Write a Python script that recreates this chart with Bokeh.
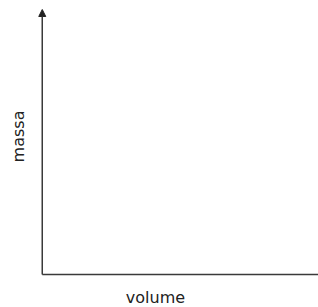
import math
from bokeh.plotting import figure
from bokeh.models import Arrow, NormalHead, Label, Range1d
from bokeh.embed import file_html
from bokeh.resources import INLINE

# chart content (no data series in the reference: just two labelled axes)
x_label = "volume"
y_label = "massa"
x_bounds = [0, 1]
y_bounds = [0, 1]

# layout (pixels)
W, H = 318, 307
ORIGIN_X, ORIGIN_Y = 41.75, 274.0   # where the axes meet
TOP_Y = 9.0                          # tip of the y-axis arrow
RIGHT_X = W                          # x axis runs to the right edge
XLAB_CX, XLAB_Y = 155.0, 297.0       # "volume" anchor
YLAB_CY, YLAB_X = 136.0, 18.0        # "massa" anchor

AX = "#3a3a3a"
FONT = "DejaVu Sans"
TXT = "#222222"

x_per_px = (x_bounds[1] - x_bounds[0]) / (RIGHT_X - ORIGIN_X)
y_per_px = (y_bounds[1] - y_bounds[0]) / (ORIGIN_Y - TOP_Y)
x_range = Range1d(x_bounds[0] - ORIGIN_X * x_per_px, x_bounds[0] + (W - ORIGIN_X) * x_per_px)
y_range = Range1d(y_bounds[0] - (H - ORIGIN_Y) * y_per_px, y_bounds[0] + ORIGIN_Y * y_per_px)


def dx(px):
    return x_range.start + px * x_per_px


def dy(py):
    return y_range.end - py * y_per_px


p = figure(width=W, height=H, output_backend="svg", toolbar_location=None,
           x_range=x_range, y_range=y_range,
           min_border=0, min_border_left=0, min_border_right=0,
           min_border_top=0, min_border_bottom=0)
p.axis.visible = False
p.grid.visible = False
p.outline_line_color = None

# x axis
p.add_layout(Arrow(end=None, x_start=x_bounds[0], y_start=y_bounds[0],
                   x_end=x_range.end, y_end=y_bounds[0],
                   line_color=AX, line_width=1.5))
# y axis with arrow head
p.add_layout(Arrow(end=NormalHead(size=7, fill_color="#222222", line_color="#222222",
                                  line_width=1),
                   x_start=x_bounds[0], y_start=y_bounds[0],
                   x_end=x_bounds[0], y_end=y_bounds[1],
                   line_color=AX, line_width=1.5))

p.add_layout(Label(x=dx(XLAB_CX), y=dy(XLAB_Y), text=x_label,
                   text_align="center", text_baseline="alphabetic",
                   text_font=FONT, text_font_size="16px", text_color=TXT))
p.add_layout(Label(x=dx(YLAB_X), y=dy(YLAB_CY), text=y_label, angle=math.pi / 2,
                   text_align="center", text_baseline="alphabetic",
                   text_font=FONT, text_font_size="16px", text_color=TXT))

open("out.html", "w").write(file_html(p, INLINE))
